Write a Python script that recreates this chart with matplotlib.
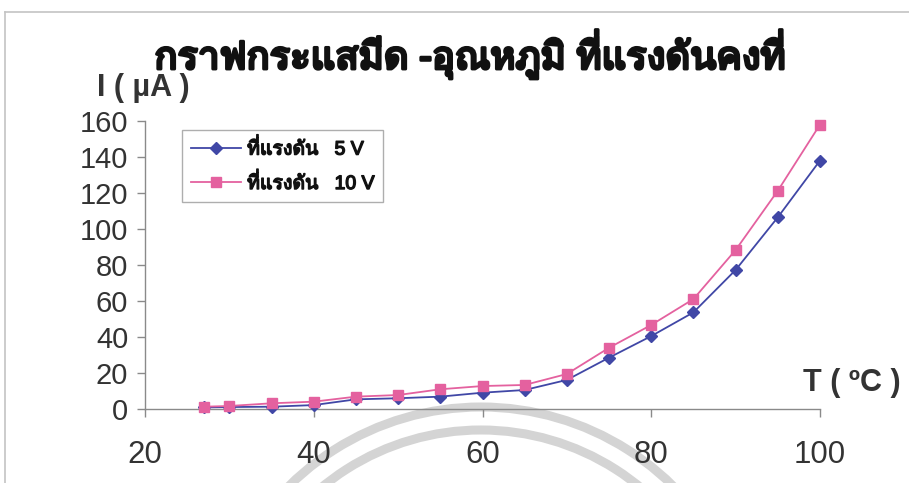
import matplotlib
matplotlib.use("Agg")
import matplotlib.pyplot as plt
import matplotlib.patheffects as pe
from matplotlib.patches import Arc
from matplotlib.lines import Line2D

# Temperature (°C) and measured current (µA) at two fixed voltages
temperature = [27, 30, 35, 40, 45, 50, 55, 60, 65, 70, 75, 80, 85, 90, 95, 100]
current_5v = [0.6, 0.8, 1.0, 1.9, 5.1, 5.7, 6.6, 8.8, 10.3, 15.9, 28.3, 40.3, 53.5, 77.1, 106.4, 138.0]
current_10v = [1.0, 1.4, 2.9, 3.8, 6.6, 7.5, 10.7, 12.5, 13.1, 19.2, 33.8, 46.5, 60.9, 88.2, 121.2, 158.0]

series_labels = ["ที่แรงดัน   5 V", "ที่แรงดัน   10 V"]
x_ticks = [20, 40, 60, 80, 100]
y_ticks = [0, 20, 40, 60, 80, 100, 120, 140, 160]

title_text = "กราฟกระแสมีด -อุณหภูมิ ที่แรงดันคงที่"
y_label = "I ( µA )"
x_label = "T ( ºC )"

# Latin glyphs from Liberation Sans, Thai glyphs (with stacked tone marks) from Loma
FONT = ["Liberation Sans", "Loma", "DejaVu Sans"]
TEXT_COLOR = "#333333"
DARK = "#111111"
AXIS_COLOR = "#8a8a8a"
BLUE = "#4047a6"
PINK = "#e4619f"

W, H = 909, 483
fig = plt.figure(figsize=(W / 100, H / 100), dpi=100)
fig.patch.set_facecolor("white")


def px(x, y):
    """Pixel position (from top-left) to figure fraction."""
    return x / W, 1 - y / H


def embolden(color, width):
    return [pe.withStroke(linewidth=width, foreground=color)]


# faint seal watermark behind the chart
for r, lw in [(273, 6.5), (250, 6.5)]:
    arc = Arc((481, H - 680), 2 * r, 2 * r, theta1=25, theta2=155,
              transform=None, color="#d4d4d4", lw=lw, zorder=0)
    fig.add_artist(arc)

# outer chart frame (top and left edges)
fig.add_artist(Line2D([5 / W, 1], [1 - 12 / H] * 2, transform=fig.transFigure,
                      color="#c4c4c4", lw=1.2))
fig.add_artist(Line2D([5 / W] * 2, [0, 1 - 12 / H], transform=fig.transFigure,
                      color="#c4c4c4", lw=1.2))

left, top = px(145, 121)
right, bottom = px(820, 408.5)
ax = fig.add_axes([left, bottom, right - left, top - bottom])
ax.patch.set_alpha(0)

ax.plot(temperature, current_5v, color=BLUE, lw=1.3, marker="D", ms=6.5,
        mfc=BLUE, mec=BLUE, clip_on=False, zorder=3, label=series_labels[0])
ax.plot(temperature, current_10v, color=PINK, lw=1.3, marker="s", ms=7,
        mfc=PINK, mec=PINK, clip_on=False, zorder=4, label=series_labels[1])

ax.set_xlim(20, 100)
ax.set_ylim(0, 160)
ax.set_xticks(x_ticks)
ax.set_yticks(y_ticks)

for s in ["top", "right"]:
    ax.spines[s].set_visible(False)
for s in ["left", "bottom"]:
    ax.spines[s].set_color(AXIS_COLOR)
    ax.spines[s].set_linewidth(1.0)

ax.tick_params(axis="both", direction="out", length=6, width=1.0,
               color=AXIS_COLOR, labelcolor=TEXT_COLOR, labelsize=21)
ax.tick_params(axis="x", pad=17, labelsize=22.5)
ax.tick_params(axis="y", pad=6)
for lab in ax.get_xticklabels() + ax.get_yticklabels():
    lab.set_family(FONT)

leg = ax.legend(loc="upper left", bbox_to_anchor=px(182, 130),
                bbox_transform=fig.transFigure, prop={"family": FONT, "size": 14},
                frameon=True, fancybox=False, borderaxespad=0, borderpad=0.45,
                handlelength=2.6, handletextpad=0.3, labelspacing=0.75,
                labelcolor=DARK)
leg.get_frame().set_edgecolor("#9a9a9a")
leg.get_frame().set_linewidth(1.0)
for t in leg.get_texts():
    t.set_path_effects(embolden(DARK, 1.0))

fig.text(*px(470, 54), title_text, family=FONT, size=27.5, color=DARK,
         ha="center", va="center", path_effects=embolden(DARK, 2.2))
fig.text(*px(97, 88), y_label, family=FONT, weight="bold", size=22,
         color=TEXT_COLOR, ha="left", va="center")
fig.text(*px(901, 383), x_label, family=FONT, weight="bold", size=22,
         color=TEXT_COLOR, ha="right", va="center")

fig.savefig("out.png", dpi=100)
